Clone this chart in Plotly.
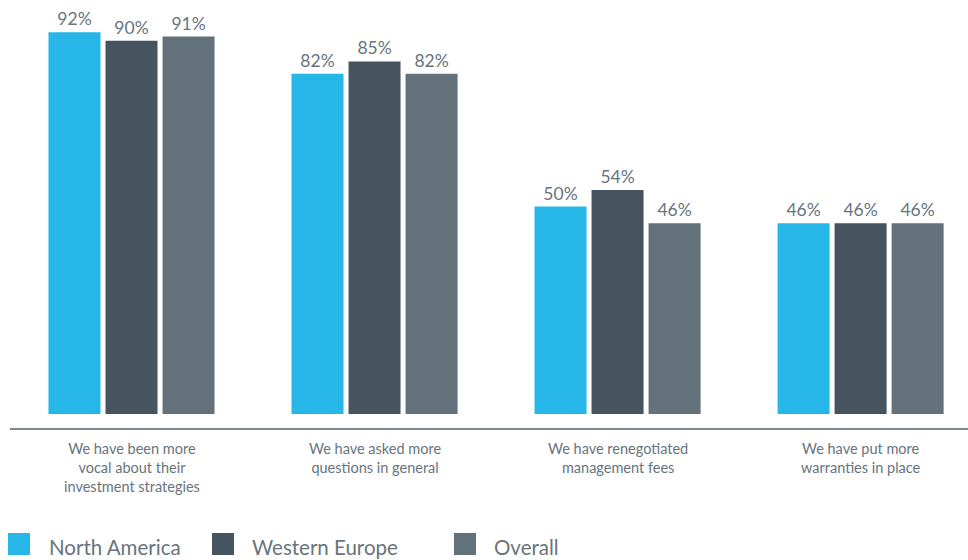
import plotly.graph_objects as go

# Survey responses: share of respondents per region
categories = [
    "We have been more<br>vocal about their<br>investment strategies",
    "We have asked more<br>questions in general",
    "We have renegotiated<br>management fees",
    "We have put more<br>warranties in place",
]
series_names = ["North America", "Western Europe", "Overall"]
north_america = [92, 82, 50, 46]
western_europe = [90, 85, 54, 46]
overall = [91, 82, 46, 46]
colors = ["#27b6e8", "#45545e", "#63717b"]

TEXT = "#67747d"
FONT = "Lato, Roboto, Liberation Sans, Arial, sans-serif"

x_pos = list(range(len(categories)))
fig = go.Figure()
for name, vals, col in zip(series_names, [north_america, western_europe, overall], colors):
    fig.add_trace(go.Bar(
        x=x_pos, y=vals, name=name, marker=dict(color=col, line=dict(width=0)),
        text=[f"{v}%" for v in vals], textposition="outside",
        textfont=dict(size=17.5, color=TEXT, family=FONT),
        cliponaxis=False, showlegend=False,
    ))

# category labels under the axis line
for i, c in enumerate(categories):
    fig.add_annotation(x=i, y=-0.024, xref="x", yref="paper", text=c,
                       showarrow=False, yanchor="top", xanchor="center",
                       font=dict(size=14.5, color=TEXT, family=FONT),
                       align="center")

# custom legend row with large swatches
W, H, L, TOP = 958, 428, 10, 0
def px_x(p):
    return (p - L) / W
def px_y(p):
    return (H - p) / H

legend_x = [(8, 47), (212, 250), (454, 492)]
for (sx, tx), name, col in zip(legend_x, series_names, colors):
    fig.add_shape(type="rect", xref="paper", yref="paper",
                  x0=px_x(sx), x1=px_x(sx + 22), y0=px_y(555), y1=px_y(533),
                  fillcolor=col, line=dict(width=0))
    fig.add_annotation(x=px_x(tx), y=px_y(547), xref="paper", yref="paper",
                       text=name, showarrow=False, xanchor="left", yanchor="middle",
                       font=dict(size=20.5, color=TEXT, family=FONT))

fig.update_layout(
    width=968, height=560,
    margin=dict(l=L, r=0, t=TOP, b=560 - H),
    plot_bgcolor="white", paper_bgcolor="white",
    barmode="group", bargap=0.296, bargroupgap=0.088,
    xaxis=dict(range=[-0.5, 3.442], showticklabels=False, ticks="",
               showgrid=False, zeroline=False,
               showline=True, linecolor="#7f8a90", linewidth=2),
    yaxis=dict(range=[-3.37, 99.8], visible=False, showgrid=False, zeroline=False),
)

fig.write_html("out.html")
